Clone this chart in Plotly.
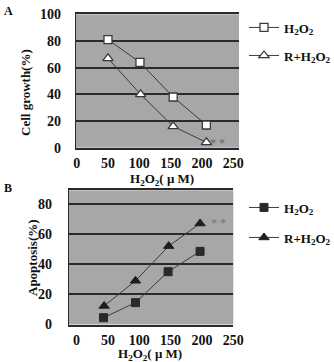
import plotly.graph_objects as go

# Panel A: cell growth
a_x = [50, 101, 154, 207]
a_h2o2 = [81, 64, 38, 17]
a_r_x = [50, 102, 154, 207]
a_r_h2o2 = [67, 40, 16, 4]

# Panel B: apoptosis
b_x = [43, 94, 146, 197]
b_h2o2 = [4.5, 14.5, 35, 48.5]
b_r_x = [44, 94, 147, 197]
b_r_h2o2 = [12.3, 29, 52, 67]

x_ticks = [0, 50, 100, 150, 200, 250]
a_yticks = [0, 20, 40, 60, 80, 100]
b_yticks = [0, 20, 40, 60, 80]

FONT = "Liberation Serif"
W, H = 334, 362
LINE = "#3a3a3a"
GRID = "#2a2a2a"
BG = "#a7a7a7"

def px(x):
    return x / W

def py(y):
    return 1 - y / H

fig = go.Figure()

fig.add_trace(go.Scatter(x=a_x, y=a_h2o2, mode="lines+markers", name="H<sub>2</sub>O<sub>2</sub>",
                         line=dict(color=LINE, width=1),
                         marker=dict(symbol="square", size=8, color="white", line=dict(color=LINE, width=1.3)),
                         xaxis="x", yaxis="y", legend="legend"))
fig.add_trace(go.Scatter(x=a_r_x, y=a_r_h2o2, mode="lines+markers", name="R+H<sub>2</sub>O<sub>2</sub>",
                         line=dict(color=LINE, width=1),
                         marker=dict(symbol="triangle-up", size=9, color="white", line=dict(color=LINE, width=1.3)),
                         xaxis="x", yaxis="y", legend="legend2"))
fig.add_trace(go.Scatter(x=b_x, y=b_h2o2, mode="lines+markers", name="H<sub>2</sub>O<sub>2</sub>",
                         line=dict(color=LINE, width=1),
                         marker=dict(symbol="square", size=8, color="#2a2a2a", line=dict(color="#2a2a2a", width=1)),
                         xaxis="x2", yaxis="y2", legend="legend3"))
fig.add_trace(go.Scatter(x=b_r_x, y=b_r_h2o2, mode="lines+markers", name="R+H<sub>2</sub>O<sub>2</sub>",
                         line=dict(color=LINE, width=1),
                         marker=dict(symbol="triangle-up", size=9, color="#1e1e1e", line=dict(color="#1e1e1e", width=1)),
                         xaxis="x2", yaxis="y2", legend="legend4"))

tickfont = dict(family=FONT, size=14, color="#111", weight="bold")

xa = dict(tickvals=x_ticks, showgrid=False, zeroline=False, showline=True, linecolor=GRID,
          linewidth=1.5, mirror=True, ticks="", tickfont=tickfont, fixedrange=True, automargin=False)
ya = dict(showgrid=True, gridcolor=GRID, gridwidth=1.6, zeroline=False, showline=True,
          linecolor=GRID, linewidth=1.2, ticks="", tickfont=tickfont, fixedrange=True, automargin=False)

fig.update_layout(
    width=W, height=H,
    margin=dict(l=0, r=0, t=0, b=0, autoexpand=False),
    paper_bgcolor="white",
    plot_bgcolor=BG,
    showlegend=True,
    xaxis=dict(xa, domain=[px(76), px(239)], range=[-1, 259], anchor="y", ticklabelstandoff=2),
    yaxis=dict(ya, domain=[py(147.7), py(14.3)], range=[0, 100], tickvals=a_yticks, anchor="x",
               ticklabelstandoff=11),
    xaxis2=dict(xa, domain=[px(69), px(233.3)], range=[-12, 250], anchor="y2", ticklabelstandoff=2),
    yaxis2=dict(ya, domain=[py(324.5), py(190.3)], range=[0, 89], tickvals=b_yticks, anchor="x2",
                ticklabelstandoff=13),
)

legfont = dict(family=FONT, size=13, color="#111", weight="bold")
for name, y in [("legend", 27.5), ("legend2", 55.5), ("legend3", 207.5), ("legend4", 237.5)]:
    fig.update_layout({name: dict(x=px(244), y=py(y), xanchor="left", yanchor="middle",
                                  bgcolor="rgba(0,0,0,0)", font=legfont, borderwidth=0,
                                  itemwidth=30)})

def label(text, x, y, size=13, angle=0, color="#111", weight="bold", xref="paper", yref="paper"):
    if xref == "paper":
        x, y = px(x), py(y)
    return dict(text=text, x=x, y=y, xref=xref, yref=yref, showarrow=False, textangle=angle,
                xanchor="center", yanchor="middle",
                font=dict(family=FONT, size=size, color=color, weight=weight))

ann = [
    label("A", 8, 11, size=12),
    label("B", 8, 188, size=12),
    label("Cell growth(%)", 25, 92, angle=-90),
    label("Apoptosis(%)", 32, 258, angle=-90),
    label("H<sub>2</sub>O<sub>2</sub>( μ M)", 162, 179),
    label("H<sub>2</sub>O<sub>2</sub>( μ M)", 150, 354),
    label("* *", 225, 3.5, size=12, color="#666", weight="normal", xref="x", yref="y"),
    label("* *", 227, 67, size=12, color="#777", weight="normal", xref="x2", yref="y2"),
]
fig.update_layout(annotations=ann)

fig.write_html("out.html", config={"displayModeBar": False},
               post_script="document.body.style.margin='0';document.body.style.overflow='hidden';")
